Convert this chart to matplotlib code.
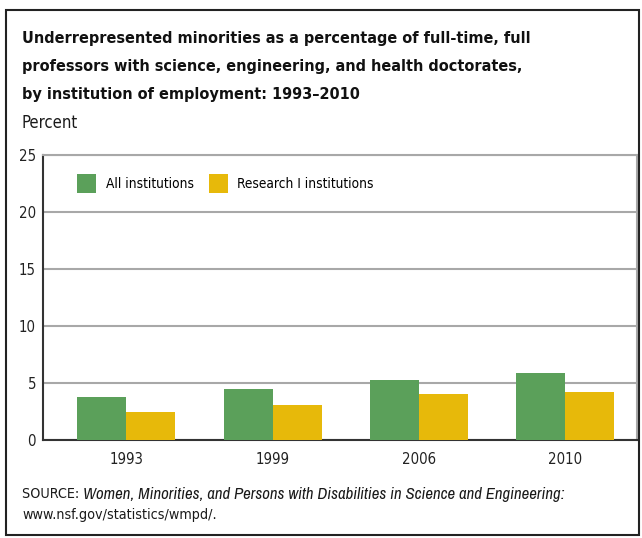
import matplotlib.pyplot as plt
from matplotlib.patches import Rectangle
from matplotlib import font_manager
import numpy as np

# Data
years = ['1993', '1999', '2006', '2010']
all_institutions = [3.75, 4.45, 5.25, 5.85]
research_1 = [2.45, 3.05, 4.0, 4.2]
yticks = [0, 5, 10, 15, 20, 25]

GREEN = '#5ba05a'
YELLOW = '#e7b90a'

STRETCH = {'ultra-condensed': 100, 'extra-condensed': 200, 'condensed': 300,
           'semi-condensed': 400, 'normal': 500}


def stretch_of(f):
    s = f.stretch
    if isinstance(s, str):
        s = STRETCH.get(s, 500)
    if s == 500:
        n = f.name + ' ' + f.fname
        if 'ExtraCondensed' in n:
            s = 200
        elif 'SemiCondensed' in n:
            s = 400
        elif 'Condensed' in n or 'Narrow' in n:
            s = 300
    return s


def weight_of(f):
    w = f.weight
    if isinstance(w, str):
        w = {'bold': 700, 'semibold': 600, 'demibold': 600, 'extra bold': 800,
             'black': 900, 'heavy': 900, 'medium': 500}.get(w, 400)
    return w


# closest sans face to a wanted stretch / weight / style, None if nothing condensed
def pick(stretch, weight, style, family=None):
    best = None
    for f in font_manager.fontManager.ttflist:
        st = stretch_of(f)
        if st >= 500 or f.style != style:
            continue
        if 'Serif' in f.name or 'Mono' in f.name or 'CJK' in f.name:
            continue
        if family and f.name != family:
            continue
        score = 3 * abs(st - stretch) + abs(weight_of(f) - weight)
        if best is None or score < best[0]:
            best = (score, f)
    return best[1] if best else None


plt.rcParams['font.family'] = ['Liberation Sans', 'DejaVu Sans']
e_reg = pick(300, 400, 'normal')
e_bold = pick(250, 700, 'normal')
e_ital = None
if e_reg:
    e_ital = pick(stretch_of(e_reg), 400, 'italic', e_reg.name) or \
        pick(stretch_of(e_reg), 400, 'italic')
reg = font_manager.FontProperties(fname=e_reg.fname) if e_reg else \
    font_manager.FontProperties(family='Liberation Sans')
bold = font_manager.FontProperties(fname=e_bold.fname) if e_bold else \
    font_manager.FontProperties(family='Liberation Sans', weight='bold')
ital = font_manager.FontProperties(fname=e_ital.fname) if e_ital else \
    font_manager.FontProperties(family='Liberation Sans', style='italic')

W, H = 642, 538
fig = plt.figure(figsize=(W / 100, H / 100), dpi=100)

# axes box in pixel coordinates: left 43, right 637, top 155, bottom 440
ax = fig.add_axes([43 / W, 1 - 440 / H, (637 - 43) / W, (440 - 155) / H])

x = np.arange(len(years))
bw = 0.335
ax.bar(x - bw / 2, all_institutions, bw, color=GREEN, label='All institutions', zorder=3)
ax.bar(x + bw / 2, research_1, bw, color=YELLOW, label='Research I institutions', zorder=3)

ax.set_xlim(-0.57, 3.49)
ax.set_ylim(0, 25)
ax.set_yticks(yticks)
ax.set_xticks(x)
ax.set_xticklabels(years)
ax.tick_params(axis='x', length=0, pad=9, colors='#222222')
ax.tick_params(axis='y', length=0, pad=5, colors='#222222')
ax.yaxis.grid(True, color='#a8a8a8', linewidth=1.5, zorder=0)
for s in ['top', 'right']:
    ax.spines[s].set_color('#a8a8a8')
    ax.spines[s].set_linewidth(1.5)
for s in ['left', 'bottom']:
    ax.spines[s].set_color('#333333')
    ax.spines[s].set_linewidth(1.5)

TXT = '#1a1a1a'
title = ['Underrepresented minorities as a percentage of full-time, full',
         'professors with science, engineering, and health doctorates,',
         'by institution of employment: 1993\u20132010']
title_txt = [fig.text(22 / W, 1 - yy / H, line, fontproperties=bold, fontsize=15,
                      va='center', ha='left', color='#111111')
             for line, yy in zip(title, [39, 67, 95])]
pct = fig.text(22 / W, 1 - 123 / H, 'Percent', fontproperties=reg, fontsize=12,
               va='center', ha='left', color=TXT)
src1 = fig.text(22 / W, 1 - 494 / H, 'SOURCE: ', fontproperties=reg, fontsize=11,
                va='center', ha='left', color=TXT)
src2 = fig.text(80 / W, 1 - 494 / H,
                'Women, Minorities, and Persons with Disabilities in Science and Engineering:',
                fontproperties=ital, fontsize=11, va='center', ha='left', color=TXT)
src3 = fig.text(22 / W, 1 - 515 / H, 'www.nsf.gov/statistics/wmpd/.', fontproperties=reg,
                fontsize=11, va='center', ha='left', color=TXT)
for lab in ax.get_xticklabels() + ax.get_yticklabels():
    lab.set_fontproperties(reg)
    lab.set_fontsize(12)

fig.canvas.draw()
r = fig.canvas.get_renderer()


def fit(artists, width_now, target):
    k = target / width_now
    for a in artists:
        a.set_fontsize(a.get_fontsize() * k)
    return k


# match text widths measured on the reference
fit(title_txt, title_txt[0].get_window_extent(r).width, 508)
fit([pct], pct.get_window_extent(r).width, 56)
fit([src1, src3], src3.get_window_extent(r).width, 194)
fig.canvas.draw()
fit([src2], src2.get_window_extent(r).width, 544 - src1.get_window_extent(r).width)
xt = ax.get_xticklabels()
k_tick = 34 / xt[0].get_window_extent(r).width
for lab in ax.get_xticklabels() + ax.get_yticklabels():
    lab.set_fontsize(12 * k_tick)

# legend sized so "All institutions" spans about 87 px
probe = fig.text(0, 0, 'All institutions', fontproperties=reg, fontsize=12)
fig.canvas.draw()
leg_size = 12 * 87 / probe.get_window_extent(r).width
probe.remove()
leg_font = reg.copy()
leg_font.set_size(leg_size)
# handle about 19 px square
hs = 1.27 * 19 / (leg_size * 100 / 72)
ax.legend(loc='upper left', bbox_to_anchor=(0.057, 0.933), ncol=2, frameon=False,
          prop=leg_font, handlelength=hs * 0.8, handleheight=hs, handletextpad=0.7,
          columnspacing=1.1, borderaxespad=0, borderpad=0)

fig.canvas.draw()
bb = src1.get_window_extent(r)
src2.set_x(bb.x1 / W)

fig.patches.append(Rectangle((6 / W, 1 - 535 / H), (639 - 6) / W, (535 - 10) / H,
                             transform=fig.transFigure, fill=False,
                             edgecolor='#222222', linewidth=1.5))

fig.savefig('out.png', dpi=100)
